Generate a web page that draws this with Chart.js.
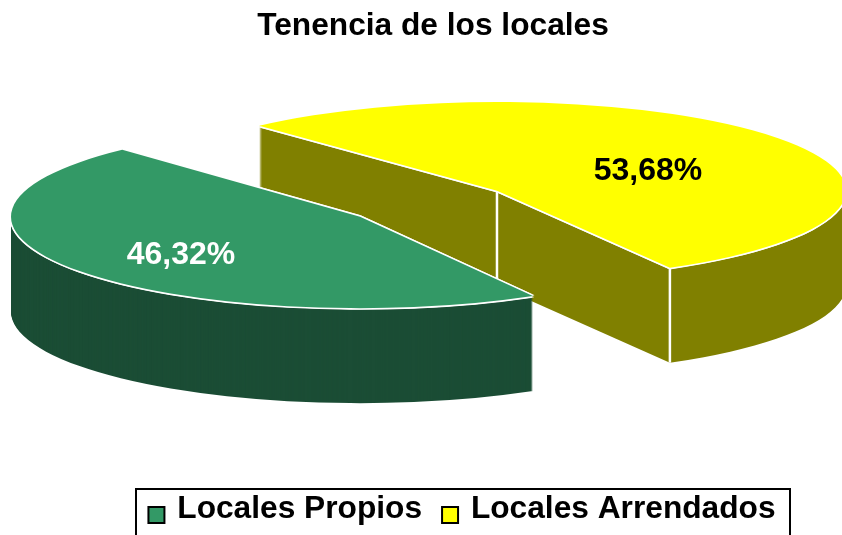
<!DOCTYPE html>
<html>
<head>
<meta charset="utf-8">
<script src="https://cdn.jsdelivr.net/npm/chart.js@4/dist/chart.umd.min.js"></script>
<style>html,body{margin:0;padding:0;background:#fff;overflow:hidden}canvas{display:block}</style>
</head>
<body>
<canvas id="c" width="842" height="535"></canvas>
<script>
const titleText = 'Tenencia de los locales';
const categories = ['Locales Propios', 'Locales Arrendados'];
const shares = [46.32, 53.68];
const topColors = ['#339966', '#FFFF00'];
const sideColors = ['#1B4D35', '#808000'];
const labelColors = ['#FFFFFF', '#000000'];
const labelPositions = [[181, 255], [648, 171]];

const FONT = '"Liberation Sans", Arial, sans-serif';
const SQUASH = [0.262, 0.254], DEPTH = 95, EXPLODE = 85, RADIUS = 349, ROTATION = 150.3;
const PIE_X = 428.5, PIE_Y = 203.5, HALO = 1.7;
const FRAME = {left: 136, top: 489, right: 790};

function arcStyle(color) {
  return {offset: 0, spacing: 0, circular: true, borderRadius: 0, borderWidth: 0,
    backgroundColor: color, borderColor: color, borderAlign: 'center', borderJoinStyle: 'round',
    borderDash: [], borderDashOffset: 0};
}
function explodeVector(arc) {
  const half = (arc.startAngle + arc.endAngle) / 2;
  return [Math.cos(half) * EXPLODE, Math.sin(half) * EXPLODE];
}
function paint(ctx, arc, i, color, dx, dy) {
  const saved = arc.options;
  const e = explodeVector(arc);
  arc.options = arcStyle(color);
  ctx.save();
  ctx.translate(PIE_X + dx, PIE_Y + dy);
  ctx.scale(1, SQUASH[i]);
  ctx.translate(e[0] - arc.x, e[1] - arc.y);
  arc.draw(ctx);
  ctx.restore();
  arc.options = saved;
}
function screenPoint(arc, i, angle) {
  const e = explodeVector(arc), r = arc.outerRadius;
  const ux = e[0] + (angle === null ? 0 : Math.cos(angle) * r);
  const uy = e[1] + (angle === null ? 0 : Math.sin(angle) * r);
  return [PIE_X + ux, PIE_Y + uy * SQUASH[i]];
}
function edge(ctx, p) {
  ctx.save();
  ctx.strokeStyle = '#FFFFFF';
  ctx.lineWidth = 2.5;
  ctx.beginPath();
  ctx.moveTo(p[0], p[1]);
  ctx.lineTo(p[0], p[1] + DEPTH);
  ctx.stroke();
  ctx.restore();
}
const dirs = [[1,0],[-1,0],[0,1],[0,-1],[.7,.7],[-.7,.7],[.7,-.7],[-.7,-.7]];

const pie3d = {
  id: 'pie3d',
  afterLayout(chart) {
    const lg = chart.legend;
    lg.left += 29; lg.right += 29;
    const h = lg.bottom - lg.top;
    lg.top = 473; lg.bottom = lg.top + h;
  },
  beforeDatasetsDraw(chart) {
    const ctx = chart.ctx;
    const arcs = chart.getDatasetMeta(0).data;
    [1, 0].forEach(i => {
      const arc = arcs[i];
      for (let d = DEPTH; d >= 1; d--) paint(ctx, arc, i, sideColors[i], 0, d);
      if (i === 1) {
        edge(ctx, screenPoint(arc, i, null));
        edge(ctx, screenPoint(arc, i, arc.endAngle));
      }
      dirs.forEach(v => paint(ctx, arc, i, '#FFFFFF', v[0] * HALO, v[1] * HALO));
      paint(ctx, arc, i, topColors[i], 0, 0);
    });
    ctx.save();
    ctx.font = 'bold 32px ' + FONT;
    ctx.textAlign = 'center';
    ctx.textBaseline = 'middle';
    shares.forEach((v, i) => {
      ctx.fillStyle = labelColors[i];
      ctx.fillText(v.toFixed(2).replace('.', ',') + '%', labelPositions[i][0], labelPositions[i][1]);
    });
    ctx.restore();
    return false;
  },
  afterDraw(chart) {
    const ctx = chart.ctx;
    ctx.save();
    ctx.strokeStyle = '#000000';
    ctx.lineWidth = 2;
    ctx.strokeRect(FRAME.left, FRAME.top, FRAME.right - FRAME.left, 100);
    chart.legend.legendHitBoxes.forEach((b, i) => {
      ctx.fillStyle = topColors[i];
      ctx.fillRect(b.left, 507, 16, 16);
      ctx.strokeRect(b.left, 507, 16, 16);
    });
    ctx.restore();
  }
};

new Chart(document.getElementById('c'), {
  type: 'pie',
  plugins: [pie3d],
  data: {
    labels: categories,
    datasets: [{data: shares, backgroundColor: topColors, borderWidth: 0, hoverOffset: 0, clip: false}]
  },
  options: {
    responsive: false,
    animation: false,
    events: [],
    radius: RADIUS,
    rotation: ROTATION,
    layout: {padding: {left: 24}},
    plugins: {
      tooltip: {enabled: false},
      title: {display: true, text: titleText, color: '#000000', padding: {top: 7, bottom: 4},
        font: {family: FONT, size: 31.7, weight: 'bold'}},
      legend: {
        position: 'bottom',
        labels: {
          color: '#000000', boxWidth: 13, padding: 20,
          font: {family: FONT, size: 31.7, weight: 'bold'},
          generateLabels: () => categories.map((t, i) => ({text: t, fillStyle: 'rgba(0,0,0,0)',
            strokeStyle: 'rgba(0,0,0,0)', lineWidth: 0, index: i, hidden: false}))
        }
      }
    }
  }
});
</script>
</body>
</html>
